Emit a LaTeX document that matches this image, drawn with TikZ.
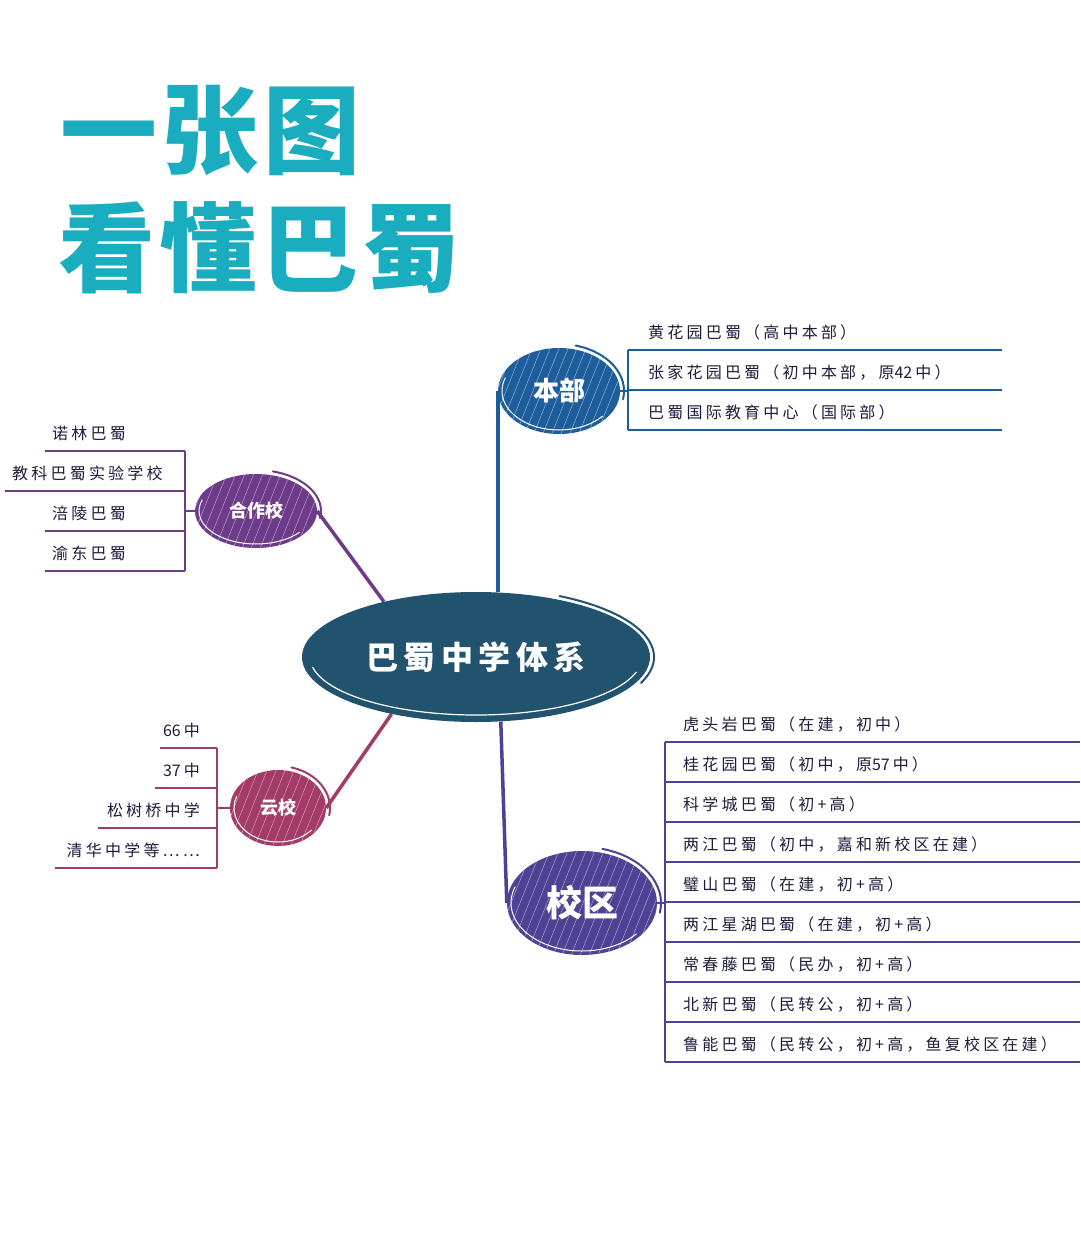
\documentclass[tikz,border=0pt]{standalone}
\usepackage{fontspec}
\setmainfont{Noto Sans CJK SC}
\newfontfamily\cjk[LetterSpace=20]{Noto Sans CJK SC}
\newfontfamily\cjknum{Noto Sans CJK SC}
\newfontfamily\cjkwide[LetterSpace=17]{Noto Sans CJK SC}
\newfontfamily\cjktitle[LetterSpace=5]{Noto Sans CJK SC}
\usepackage{tikz}
\usetikzlibrary{calc,positioning,shapes.geometric,backgrounds}
\usepackage{xcolor}
\definecolor{titleteal}{HTML}{1AADBF}
\definecolor{sysblue}{HTML}{22536E}
\definecolor{benblue}{HTML}{1E5D9B}
\definecolor{hezuopurple}{HTML}{6D3B8A}
\definecolor{yunrose}{HTML}{A23B66}
\definecolor{xiaoquindigo}{HTML}{4D4294}
\definecolor{leafnavy}{HTML}{1C1E3C}

% digits without tracking
\newcommand\num[1]{{\cjknum #1}\hspace{3pt}}

% white sketch strokes inside a bubble: node, x radius, y radius
\newcommand\sketchbubble[3]{%
  \begin{scope}
    \clip (#1.center) ellipse [x radius=#2, y radius=#3];
    \foreach \k in {-170,-161,...,170}
      \draw[white, opacity=.5, line width=.5pt]
        ($(#1.center)+(\k-0.4*#3,#3)$) -- ++(0.8*#3,-2*#3);
  \end{scope}
  \draw[white, line width=1pt]
    ($(#1.center)+(40:#2-4 and #3-4)$)
    arc[start angle=40, end angle=200, x radius=#2-4, y radius=#3-4];
}
% outer swoosh on the upper right of a bubble
\newcommand\swoosh[6]{%
  \draw[#4, line width=2pt, line cap=round]
    ($(#1.center)+(#5:#2+4 and #3+4)$)
    arc[start angle=#5, end angle=#6, x radius=#2+4, y radius=#3+4];
}

\begin{document}
\begin{tikzpicture}[x=1pt, y=-1pt,
    every node/.style={inner sep=0pt},
    bubble/.style={ellipse, fill=#1, text=white},
    leaf/.style={font=\cjk\fontsize{16}{16}\selectfont, text=leafnavy},
    branch/.style={draw=#1, line width=3.5pt},
    twig/.style={draw=#1, line width=1.6pt},
    title/.style={font=\cjktitle\bfseries\fontsize{97}{97}\selectfont, text=titleteal}
  ]
  \useasboundingbox (0,0) rectangle (1080,1260);

  % title
  \node[title, anchor=base west] (title1) at (60,167) {一张图};
  \node[title, anchor=base west] (title2) at (58,284) {看懂巴蜀};

  % bubbles
  \node[bubble=sysblue, minimum width=348pt, minimum height=130pt,
        font=\cjkwide\bfseries\fontsize{32}{32}\selectfont] (sys) at (476,657) {巴蜀中学体系};
  \node[bubble=benblue, minimum width=122pt, minimum height=86pt,
        font=\bfseries\fontsize{26}{26}\selectfont] (benbu) at (559,391) {本部};
  \node[bubble=hezuopurple, minimum width=122pt, minimum height=74pt,
        font=\bfseries\fontsize{18}{18}\selectfont] (hezuo) at (256,511) {合作校};
  \node[bubble=yunrose, minimum width=96pt, minimum height=76pt,
        font=\bfseries\fontsize{18}{18}\selectfont] (yunxiao) at (278,808) {云校};
  \node[bubble=xiaoquindigo, minimum width=150pt, minimum height=104pt,
        font=\bfseries\fontsize{36}{36}\selectfont] (xiaoqu) at (582,903) {校区};

  \sketchbubble{benbu}{61}{43}
  \sketchbubble{hezuo}{61}{37}
  \sketchbubble{yunxiao}{48}{38}
  \sketchbubble{xiaoqu}{75}{52}
  \swoosh{benbu}{61}{43}{benblue}{-75}{10}
  \swoosh{hezuo}{61}{37}{hezuopurple}{-75}{10}
  \swoosh{yunxiao}{48}{38}{yunrose}{-75}{10}
  \swoosh{xiaoqu}{75}{52}{xiaoquindigo}{-75}{10}
  \swoosh{sys}{174}{65}{sysblue}{-62}{22}
  \draw[white, line width=1.2pt]
    ($(sys.center)+(15:166 and 58)$) arc[start angle=15, end angle=170, x radius=166, y radius=58];

  \begin{pgfonlayer}{background}
    \fill[white] (0,0) rectangle (1080,1260);
    % main branches
    \draw[branch=benblue] (benbu.west) -- (benbu.west |- sys.north);
    \draw[branch=hezuopurple] (sys.149) -- (hezuo.east);
    \draw[branch=yunrose] (sys.214) -- (yunxiao.east);
    \draw[branch=xiaoquindigo] (sys.-69) -- (xiaoqu.west);

    % 本部
    \coordinate (bbk) at (628,391);
    \draw[twig=benblue] (benbu.east) -- (bbk);
    \draw[twig=benblue] (628,350) -- (628,430);
    \foreach \t [count=\i] in {黄花园巴蜀（高中本部）,
        张家花园巴蜀（初中本部，原\num{42}中）, 巴蜀国际教育中心（国际部）} {
      \pgfmathsetmacro\yy{310+40*\i}
      \node[leaf, anchor=base west] (bb\i) at (648,\yy-12) {\t};
      \coordinate (bbl\i) at (628,\yy);
      \coordinate (bbr\i) at (1002,\yy);
      \draw[twig=benblue] (bbl\i) -- (bbr\i);
    }

    % 合作校
    \coordinate (hzk) at (185,511);
    \draw[twig=hezuopurple] (hezuo.west) -- (hzk);
    \draw[twig=hezuopurple] (185,451) -- (185,571);
    \foreach \s/\t [count=\i] in {45/诺林巴蜀, 5/教科巴蜀实验学校, 45/涪陵巴蜀, 45/渝东巴蜀} {
      \pgfmathsetmacro\yy{411+40*\i}
      \node[leaf, anchor=base west] (hz\i) at (\s+7,\yy-12) {\t};
      \coordinate (hzl\i) at (\s,\yy);
      \coordinate (hzr\i) at (185,\yy);
      \draw[twig=hezuopurple] (hzl\i) -- (hzr\i);
    }

    % 云校
    \coordinate (yxk) at (217,808);
    \draw[twig=yunrose] (yunxiao.west) -- (yxk);
    \draw[twig=yunrose] (217,748) -- (217,868);
    \foreach \s/\t [count=\i] in {160/\num{66}中, 155/\num{37}中, 98/松树桥中学, 55/清华中学等……} {
      \pgfmathsetmacro\yy{708+40*\i}
      \node[leaf, anchor=base east] (yx\i) at (200,\yy-12) {\t};
      \coordinate (yxl\i) at (\s,\yy);
      \coordinate (yxr\i) at (217,\yy);
      \draw[twig=yunrose] (yxl\i) -- (yxr\i);
    }

    % 校区
    \coordinate (xqk) at (665,903);
    \draw[twig=xiaoquindigo] (xiaoqu.east) -- (xqk);
    \draw[twig=xiaoquindigo] (665,742) -- (665,1062);
    \foreach \t [count=\i] in {虎头岩巴蜀（在建，初中）, 桂花园巴蜀（初中，原\num{57}中）,
        科学城巴蜀（初+高）, 两江巴蜀（初中，嘉和新校区在建）, 璧山巴蜀（在建，初+高）,
        两江星湖巴蜀（在建，初+高）, 常春藤巴蜀（民办，初+高）, 北新巴蜀（民转公，初+高）,
        鲁能巴蜀（民转公，初+高，鱼复校区在建）} {
      \pgfmathsetmacro\yy{702+40*\i}
      \node[leaf, anchor=base west] (xq\i) at (683,\yy-12) {\t};
      \coordinate (xql\i) at (665,\yy);
      \coordinate (xqr\i) at (1080,\yy);
      \draw[twig=xiaoquindigo] (xql\i) -- (xqr\i);
    }
  \end{pgfonlayer}
\end{tikzpicture}
\end{document}
